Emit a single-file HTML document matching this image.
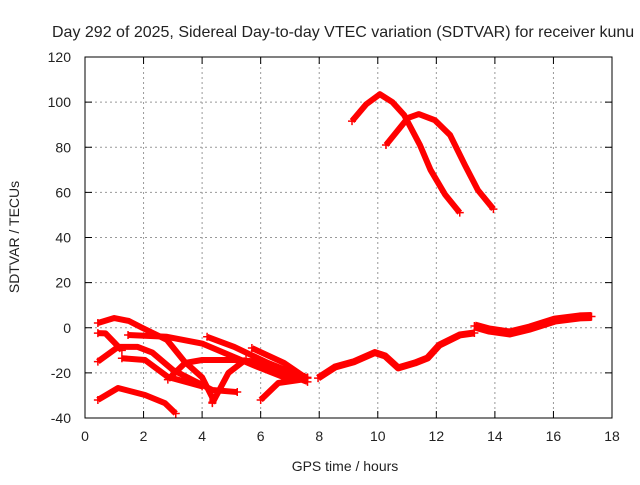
<!DOCTYPE html>
<html><head><meta charset="utf-8"><style>
body{margin:0;background:#fff;}
svg text{font-family:"Liberation Sans",sans-serif;font-size:14px;fill:#222;}
</style></head><body>
<svg width="640" height="480">
<text x="52" y="37" style="font-size:16px">Day 292 of 2025, Sidereal Day-to-day VTEC variation (SDTVAR) for receiver kunu</text>
<g id="grid"></g>
<g id="series"></g>
<rect x="85" y="57" width="527" height="361" fill="none" stroke="#000" stroke-width="1"/>
<g id="axes"></g>
<text x="345" y="471" text-anchor="middle">GPS time / hours</text>
<text transform="translate(19,237) rotate(-90)" text-anchor="middle">SDTVAR / TECUs</text>
</svg>
<script>
const xTicks=[0,2,4,6,8,10,12,14,16,18];
const yTicks=[-40,-20,0,20,40,60,80,100,120];
const s1=[[0.44,2.1],[1.0,4.3],[1.5,3],[1.95,0],[2.8,-5.4],[3.4,-15],[4.0,-22],[4.35,-31],[4.35,-33]];
const s2=[[0.44,-2.4],[0.7,-2.5],[1.26,-10]];
const s3=[[1.47,-3.2],[2.8,-4],[4.0,-7],[5.1,-13],[5.9,-17.4],[6.8,-22],[7.6,-22.3]];
const s4=[[4.17,-4],[5.1,-8.5],[6.25,-15.6],[7.3,-21]];
const s5=[[5.7,-9],[6.8,-15.6],[7.5,-21.8]];
const s6=[[0.44,-15],[1.13,-8.5],[1.8,-8.5],[2.3,-11],[3.0,-18.7],[3.65,-23],[4.35,-27.6],[5.2,-28.5]];
const s7=[[1.26,-13.5],[2.05,-14.3],[2.83,-21.8],[4.0,-26]];
const s8=[[2.83,-23],[3.42,-15.6],[4.0,-14.3],[5.1,-14.3],[5.9,-15],[6.8,-19.6],[7.6,-22]];
const s9=[[4.35,-33.4],[4.9,-20],[5.5,-14]];
const s10=[[6.0,-32],[6.6,-24.5],[7.4,-23],[7.6,-24]];
const s11=[[0.44,-32],[1.13,-26.7],[2.05,-29.8],[2.73,-33.4],[3.1,-38]];
const s12=[[7.96,-22.3],[8.54,-17.4],[9.2,-15],[9.9,-11],[10.25,-12.5],[10.7,-17.8],[11.27,-15.6],[11.7,-13.4],[12.1,-7.7],[12.8,-3.2],[13.3,-2.3]];
const s13=[[13.3,0.8],[13.8,-1],[14.5,-2.3],[15.2,-0.1],[16.05,3.4],[16.9,4.8],[17.3,5]];
const s14=[[9.12,91.6],[9.6,99],[10.07,103.5],[10.5,100],[10.9,94.3],[11.44,81],[11.8,70],[12.3,59],[12.8,51]];
const s15=[[10.28,81],[11.03,93],[11.4,94.7],[11.95,92],[12.47,85.4],[12.98,72],[13.42,61],[13.95,52.6]];
const allSeries=[s1,s2,s3,s4,s5,s6,s7,s8,s9,s10,s11,s12,s13,s14,s15];
const widths=[6,6,6,6,6,6,6,6,6,6,6,7,9,6,6];
const X=v=>85+v*527/18, Y=v=>418-(v+40)*361/160;
const NS="http://www.w3.org/2000/svg";
const grid=document.getElementById('grid'), axes=document.getElementById('axes'), sg=document.getElementById('series');
function mk(t,a,p){const e=document.createElementNS(NS,t);for(const k in a)e.setAttribute(k,a[k]);p.appendChild(e);return e;}
xTicks.forEach(t=>{const x=X(t);
 if(t>0&&t<18){const l=mk('line',{x1:x,x2:x,y1:57,y2:418,stroke:'#999','stroke-dasharray':'2,3'},grid);
 
 }
 mk('line',{x1:x,x2:x,y1:418,y2:411,stroke:'#000'},axes);mk('line',{x1:x,x2:x,y1:57,y2:64,stroke:'#000'},axes);
 const tx=mk('text',{x:x,y:441,'text-anchor':'middle'},axes);tx.textContent=t;
 
 });
yTicks.forEach(t=>{const y=Y(t);
 if(t>-40&&t<120){const l=mk('line',{x1:85,x2:612,y1:y,y2:y,stroke:'#999','stroke-dasharray':'2,3'},grid);
 
 }
 mk('line',{x1:85,x2:92,y1:y,y2:y,stroke:'#000'},axes);mk('line',{x1:612,x2:605,y1:y,y2:y,stroke:'#000'},axes);
 const tx=mk('text',{x:71,y:y+5,'text-anchor':'end'},axes);tx.textContent=t;
 
 });
allSeries.forEach((s,i)=>{
 const p=mk('polyline',{points:s.map(d=>X(d[0])+','+Y(d[1])).join(' '),fill:'none',stroke:'#f00','stroke-width':widths[i],'stroke-linejoin':'round','stroke-linecap':'butt'},sg);
 
 
 [s[0],s[s.length-1]].forEach(d=>{const x=X(d[0]),y=Y(d[1]);
  mk('path',{d:`M${x-4},${y}h8M${x},${y-4}v8`,stroke:'#f00','stroke-width':1.5},sg);});
});
</script>
</body></html>
